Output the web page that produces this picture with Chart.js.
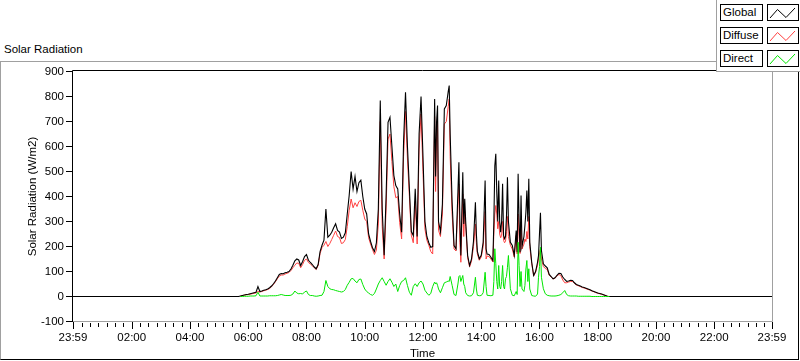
<!DOCTYPE html>
<html>
<head>
<meta charset="utf-8">
<script src="https://cdn.jsdelivr.net/npm/chart.js@4.4.1/dist/chart.umd.min.js"></script>
<style>
html,body{margin:0;padding:0;background:#fff;width:800px;height:361px;overflow:hidden;font-family:"Liberation Sans",Arial,sans-serif;color:#000;}
#frame{position:absolute;left:0;top:61px;width:797px;height:297px;border-top:1px solid #a0a0a0;border-left:1px solid #a0a0a0;border-right:1px solid #000;border-bottom:1px solid #000;}
#title{position:absolute;left:4px;top:42px;font-size:11.5px;line-height:14px;white-space:nowrap;}
#chart{position:absolute;left:0;top:0;}
#legend{position:absolute;left:716px;top:0;width:83px;height:71px;background:#fff;border-left:1px solid #a0a0a0;border-bottom:1px solid #a0a0a0;}
.lab{position:absolute;left:720px;width:43px;height:17px;box-sizing:border-box;border:1px solid #000;font-size:11.5px;line-height:15px;padding-left:2px;white-space:nowrap;background:#fff;}
.sw{position:absolute;left:767px;width:32px;height:17px;box-sizing:border-box;border:1px solid #000;background:#fff;}
.sw svg{position:absolute;left:0;top:0;}
</style>
</head>
<body>
<div id="frame"></div>
<div id="title">Solar Radiation</div>
<canvas id="chart" width="800" height="361"></canvas>
<div id="legend"></div>
<div class="lab" style="top:4px">Global</div>
<div class="sw" style="top:4px"><svg width="30" height="15"><polyline points="2,13 9.5,4.5 18,12.5 27,3" fill="none" stroke="#000" stroke-width="1"/></svg></div>
<div class="lab" style="top:27px">Diffuse</div>
<div class="sw" style="top:27px"><svg width="30" height="15"><polyline points="2,13 9.5,4.5 18,12.5 27,3" fill="none" stroke="#ff4040" stroke-width="1"/></svg></div>
<div class="lab" style="top:50px">Direct</div>
<div class="sw" style="top:50px"><svg width="30" height="15"><polyline points="2,13 9.5,4.5 18,12.5 27,3" fill="none" stroke="#00e600" stroke-width="1"/></svg></div>
<script>
// ---- Data (minutes after midnight, W/m2) ----
const dayTimes = [344,348,352,356,360,364,368,372,376,380,384,388,392,396,400,404,408,412,416,420,424,428,432,436,440,444,448,452,456,460,464,468,472,476,480,484,488,492,496,500,504,508,512,516,520,524,528,532,536,540,544,548,552,556,560,564,568,572,576,580,584,588,592,596,600,604,608,612,616,620,624,628,632,636,640,644,648,652,656,660,664,668,672,676,680,684,688,692,696,700,704,708,712,716,720,724,728,732,736,740,
744,746,748,750,752,756,760,764,768,772,774,776,780,784,788,792,794,796,798,802,804,806,808,812,816,820,824,828,830,832,836,840,844,848,850,852,856,860,864,866,868,870,872,874,876,878,880,882,884,886,888,890,892,894,896,900,904,908,912,914,916,918,920,922,924,928,930,932,934,936,938,940,944,948,952,956,958,960,962,964,
968,972,976,980,984,988,992,996,1000,1004,1008,1012,1016,1020,1024,1028,1032,1036,1040,1044,1048,1052,1056,1060,1064,1068,1072,1076,1080,1084,1088,1092,1096,1100,1104];

const globalDay = [2,4,6,8,9,11,13,15,17,
40,20,22,25,27,30,35,42,51,62,
75,88,92,91,95,97,100,110,125,143,
150,146,124,140,160,168,145,136,128,118,
111,128,180,205,225,350,237,245,257,275,
291,264,258,232,237,255,330,405,500,430,
480,420,455,465,400,350,330,250,220,195,
180,215,350,784,350,165,400,697,717,600,
484,444,430,330,257,620,817,600,430,260,
244,431,240,650,800,560,300,240,215,197,200,
790,480,700,764,300,260,370,750,764,820,844,650,377,204,191,420,537,300,164,497,290,391,300,164,124,150,220,377,250,180,151,165,217,464,191,170,168,157,144,300,524,571,417,300,464,300,257,300,451,244,231,240,320,477,300,217,204,164,264,177,491,300,177,404,200,240,284,337,424,300,471,217,137,84,100,137,164,250,335,184,
131,122,115,88,80,71,75,85,93,92,78,68,60,62,65,64,55,48,45,42,38,36,33,30,27,23,20,17,14,12,10,7,4,1,0];

const diffuseDay = [2,4,5,7,8,9,11,13,14,
20,18,20,23,25,28,32,39,48,59,
71,82,86,86,90,93,96,104,115,125,
134,133,115,128,145,150,136,130,123,115,
108,124,172,196,205,220,200,212,228,245,
262,240,236,212,215,228,280,345,390,355,
375,360,380,385,345,310,300,235,210,188,
168,185,290,700,280,150,350,630,650,540,
440,395,400,295,230,560,740,550,400,245,
215,380,210,590,730,500,270,225,205,180,170,
720,420,640,700,265,240,330,690,700,760,790,560,330,190,182,370,450,215,137,410,240,345,280,155,118,142,200,290,215,170,145,158,200,340,150,162,160,150,138,250,330,364,330,271,300,250,235,245,300,225,215,220,260,320,240,205,190,158,244,170,330,240,172,300,190,210,230,220,260,230,320,200,132,82,98,125,150,175,190,150,
120,112,108,85,78,70,73,82,88,84,66,55,55,58,60,60,52,46,43,40,36,34,31,28,26,22,19,16,13,11,9,6,4,1,0];

const directDay = [0,0,1,1,1,2,2,2,3,
17,2,2,2,2,2,3,3,3,3,
4,6,8,6,4,4,4,5,10,22,
14,11,12,10,18,22,8,4,4,2,
1,2,4,5,20,64,40,31,28,27,
24,22,20,18,20,28,45,57,71,72,
62,55,68,70,48,30,20,14,8,5,
12,30,50,64,75,60,45,60,71,57,
40,50,20,44,60,64,75,44,17,5,
40,51,40,55,62,50,25,14,5,12,40,
58,50,55,45,30,15,35,55,58,62,60,80,45,8,4,50,80,84,60,84,50,40,15,4,2,3,15,77,30,5,3,4,15,97,40,5,4,3,5,60,191,131,60,30,124,40,30,60,124,40,30,71,80,117,164,31,5,3,20,8,217,124,40,100,30,20,44,110,144,60,111,30,4,2,1,10,77,120,197,77,
31,11,5,3,2,2,2,3,5,8,15,24,8,3,2,2,2,2,1,1,1,1,1,1,1,0,0,0,0,0,0,0,0,0,0];

const nightTimes = [-1, 340, 1108, 1439];
const nightGlobal = [0, 0, 0, 0];

const tickValues = [-1,120,240,360,480,600,720,840,960,1080,1200,1320,1439];
const tickLabels = ["23:59","02:00","04:00","06:00","08:00","10:00","12:00","14:00","16:00","18:00","20:00","22:00","23:59"];
const minorPerMajor = 7;

// ---- Build ----
function pts(ts, vs){ return ts.map((t,i)=>({x:t, y:vs[i]})); }
const globalPts = pts(nightTimes.slice(0,2), nightGlobal.slice(0,2))
  .concat(pts(dayTimes, globalDay), pts(nightTimes.slice(2), nightGlobal.slice(2)));
const diffusePts = pts(dayTimes, diffuseDay);
const directPts = pts(dayTimes, directDay);

const minorTicks = [];
for (let k = 1; k < 12 * minorPerMajor; k++) {
  if (k % minorPerMajor) minorTicks.push(k * 120 / minorPerMajor);
}

const framePlugin = {
  id: 'frame',
  afterDraw(chart) {
    const {ctx, chartArea: a, scales: {x}} = chart;
    const top = Math.floor(a.top) - 0.5;      // dark top border row
    const bot = Math.floor(a.bottom) + 0.5;   // light bottom border row
    const right = Math.round(a.right) + 0.5;
    const left = Math.round(a.left) - 0.5;
    ctx.save();
    ctx.lineWidth = 1;
    ctx.strokeStyle = '#000';
    ctx.beginPath();
    tickValues.forEach(v => {
      const px = Math.round(x.getPixelForValue(v)) + 0.5;
      ctx.moveTo(px, bot + 0.5); ctx.lineTo(px, bot + 7.5);
    });
    minorTicks.forEach(v => {
      const px = Math.round(x.getPixelForValue(v)) + 0.5;
      ctx.moveTo(px, bot + 1.5); ctx.lineTo(px, bot + 5.5);
    });
    ctx.stroke();
    ctx.beginPath();
    ctx.moveTo(left, bot); ctx.lineTo(left, top); ctx.lineTo(right, top);
    ctx.stroke();
    ctx.strokeStyle = '#a0a0a0';
    ctx.beginPath();
    ctx.moveTo(right, top); ctx.lineTo(right, bot); ctx.lineTo(left + 0.5, bot);
    ctx.stroke();
    ctx.restore();
  }
};

Chart.defaults.font.family = '"Liberation Sans", Arial, sans-serif';
Chart.defaults.font.size = 11.5;
Chart.defaults.color = '#000';

new Chart(document.getElementById('chart'), {
  type: 'line',
  data: {
    datasets: [
      {label: 'Direct', data: directPts, borderColor: '#00e600', borderWidth: 1, pointRadius: 0, tension: 0, fill: false},
      {label: 'Global', data: globalPts, borderColor: '#000000', borderWidth: 1.1, pointRadius: 0, tension: 0, fill: false},
      {label: 'Diffuse', data: diffusePts, borderColor: '#ff4040', borderWidth: 1, pointRadius: 0, tension: 0, fill: false}
    ]
  },
  options: {
    responsive: false,
    animation: false,
    devicePixelRatio: 1,
    layout: {padding: {top: 71.5, right: 28, bottom: 0, left: 0}},
    plugins: {legend: {display: false}, tooltip: {enabled: false}},
    scales: {
      x: {
        type: 'linear', min: -1, max: 1439,
        afterBuildTicks: s => { s.ticks = tickValues.map(v => ({value: v})); },
        ticks: {
          autoSkip: false, maxRotation: 0, padding: 9,
          callback: (v) => { const i = tickValues.indexOf(v); return i >= 0 ? tickLabels[i] : ''; }
        },
        grid: {display: false, drawTicks: false},
        border: {display: false},
        title: {display: true, text: 'Time', padding: {top: 0, bottom: 0}},
        afterFit: s => { s.height = 39.5; }
      },
      y: {
        type: 'linear', min: -100, max: 900,
        ticks: {stepSize: 100, padding: 2},
        grid: {drawOnChartArea: false, drawTicks: true, tickLength: 7, color: '#000'},
        border: {display: false},
        title: {display: true, text: 'Solar Radiation (W/m2)', padding: {top: 26, bottom: 0}},
        afterFit: s => { s.width = 73; }
      }
    }
  },
  plugins: [framePlugin]
});
</script>
</body>
</html>
